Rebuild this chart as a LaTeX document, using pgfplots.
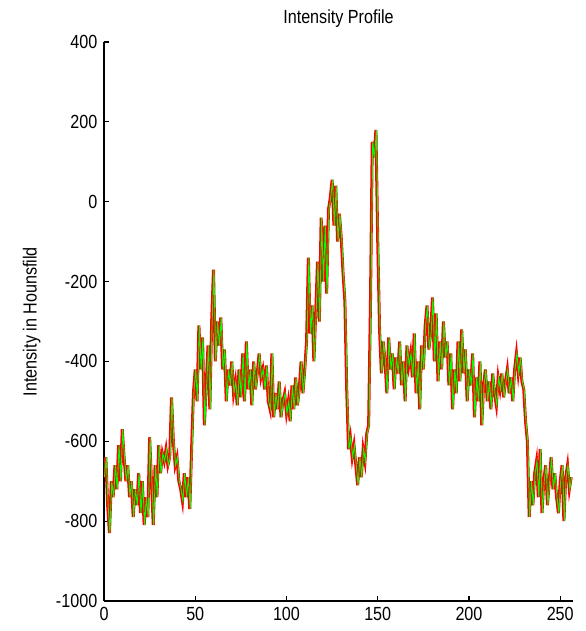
\documentclass[border=0pt]{standalone}
\usepackage{pgfplots}
\pgfplotsset{compat=1.18}
\usepackage{pgfplotstable}
\usepackage{fontspec}
\setmainfont{Liberation Sans}[FakeStretch=0.85]
\pgfplotstableread{
x y
0 -690
1 -640
2 -760
3 -830
4 -700
5 -740
6 -660
7 -720
8 -610
9 -700
10 -570
11 -640
12 -700
13 -660
14 -740
15 -700
16 -790
17 -720
18 -760
19 -680
20 -780
21 -700
22 -810
23 -740
24 -790
25 -590
26 -700
27 -810
28 -660
29 -740
30 -610
31 -680
32 -630
33 -650
34 -620
35 -660
36 -640
37 -490
38 -600
39 -660
40 -640
41 -700
42 -720
43 -750
44 -680
45 -740
46 -690
47 -770
48 -620
49 -480
50 -420
51 -500
52 -310
53 -420
54 -340
55 -560
56 -460
57 -360
58 -520
59 -300
60 -170
61 -400
62 -300
63 -360
64 -290
65 -420
66 -370
67 -500
68 -420
69 -460
70 -400
71 -480
72 -450
73 -510
74 -420
75 -490
76 -380
77 -500
78 -350
79 -470
80 -420
81 -510
82 -400
83 -470
84 -430
85 -380
86 -440
87 -420
88 -470
89 -410
90 -500
91 -520
92 -380
93 -540
94 -480
95 -520
96 -450
97 -540
98 -500
99 -480
100 -530
101 -500
102 -550
103 -460
104 -520
105 -440
106 -510
107 -470
108 -400
109 -480
110 -420
111 -350
112 -140
113 -330
114 -260
115 -400
116 -280
117 -150
118 -300
119 -40
120 -200
121 -60
122 -230
123 -20
124 10
125 55
126 -60
127 40
128 -100
129 -30
130 -90
131 -180
132 -250
133 -470
134 -620
135 -590
136 -640
137 -610
138 -660
139 -710
140 -640
141 -690
142 -620
143 -650
144 -580
145 -560
146 -260
147 150
148 110
149 180
150 -100
151 -320
152 -430
153 -350
154 -400
155 -480
156 -340
157 -420
158 -380
159 -470
160 -390
161 -430
162 -350
163 -460
164 -400
165 -500
166 -360
167 -410
168 -380
169 -440
170 -330
171 -480
172 -400
173 -520
174 -360
175 -420
176 -310
177 -260
178 -370
179 -330
180 -240
181 -400
182 -280
183 -450
184 -350
185 -420
186 -300
187 -390
188 -350
189 -460
190 -380
191 -520
192 -420
193 -480
194 -350
195 -450
196 -320
197 -430
198 -370
199 -500
200 -420
201 -460
202 -380
203 -540
204 -440
205 -500
206 -400
207 -560
208 -460
209 -420
210 -500
211 -450
212 -520
213 -430
214 -480
215 -510
216 -440
217 -470
218 -430
219 -490
220 -450
221 -420
222 -480
223 -440
224 -500
225 -420
226 -380
227 -430
228 -390
229 -450
230 -470
231 -550
232 -600
233 -790
234 -700
235 -760
236 -680
237 -650
238 -740
239 -620
240 -780
241 -700
242 -660
243 -760
244 -700
245 -640
246 -720
247 -680
248 -740
249 -780
250 -700
251 -660
252 -800
253 -690
254 -660
255 -720
256 -690
}\profile
\begin{document}
\fontsize{9.5}{11}\selectfont
\begin{tikzpicture}
\begin{axis}[
  at={(0,0)}, anchor=south west,
  scale only axis, width=234.5pt, height=279.5pt,
  xmin=0, xmax=257, ymin=-1000, ymax=400,
  axis lines=left,
  axis line style={-, line width=0.6pt},
  xtick={0,50,100,150,200,250},
  ytick={-1000,-800,-600,-400,-200,0,200,400},
  tick align=inside,
  major tick length=2.5pt,
  tick style={black, line width=0.6pt},
  /pgf/number format/assume math mode=true,
  /pgf/number format/1000 sep={},
  every tick label/.append style={font=\fontsize{9.5}{11}\selectfont},
  title={Intensity Profile},
  title style={at={(axis description cs:0.5,1)}, anchor=center, yshift=5.5pt, font=\fontsize{9.5}{11}\selectfont},
  ylabel={Intensity in Hounsfild},
  ylabel style={at={(axis description cs:-0.154,0.5)}, anchor=center, font=\fontsize{9.5}{11}\selectfont},
  clip=true,
]
\addplot[red, line width=1.5pt, line join=miter] table[x=x,y=y] {\profile};
\addplot[green, line width=0.45pt, line join=miter] table[x expr=\thisrow{x}+0.25,y=y] {\profile};
\end{axis}
\pgfresetboundingbox
\path[use as bounding box] (-52pt,-15pt) rectangle (240.5pt,300.5pt);
\end{tikzpicture}
\end{document}
